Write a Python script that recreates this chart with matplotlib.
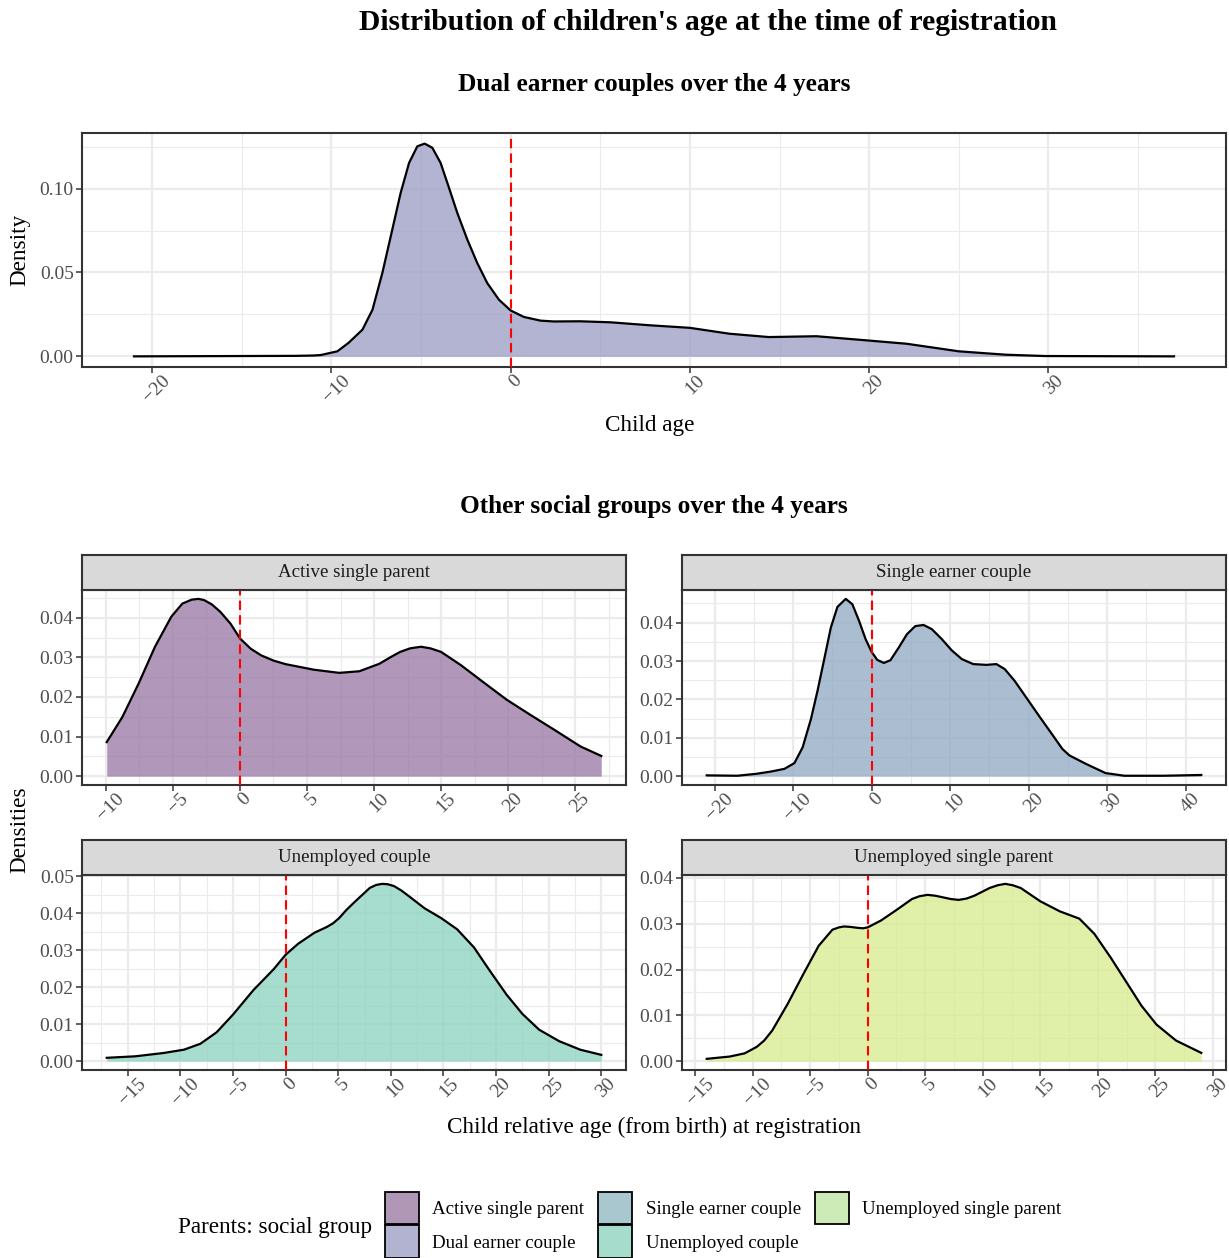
import matplotlib
matplotlib.use("Agg")
import matplotlib.pyplot as plt
import matplotlib.transforms as mtransforms
from matplotlib.patches import Patch
from matplotlib.ticker import MultipleLocator, FormatStrFormatter

plt.rcParams['font.family'] = ['Liberation Serif', 'DejaVu Serif']

# --- data (density curves) ---
dual_x = [-21, -18, -15, -12, -11, -10.58, -9.66, -9.04, -8.26, -7.7, -7.15, -6.68, -6.13, -5.66,
          -5.2, -4.79, -4.36, -3.9, -3.43, -2.97, -2.41, -1.86, -1.3, -0.65, 0, 0.74, 1.67, 2.4,
          3.9, 5.57, 7.8, 10.0, 12.2, 14.4, 17.06, 19.9, 22.1, 25.0, 27.6, 29.8, 33, 37]
dual_y = [0.0, 0.0001, 0.0002, 0.0003, 0.0005, 0.0008, 0.003, 0.008, 0.0159, 0.0278, 0.0497,
          0.0716, 0.0974, 0.1153, 0.1252, 0.1268, 0.1243, 0.1153, 0.1004, 0.0855, 0.0696, 0.0557,
          0.0437, 0.0338, 0.0274, 0.0235, 0.0213, 0.0208, 0.0209, 0.0203, 0.0185, 0.017, 0.0135,
          0.0115, 0.012, 0.0095, 0.0075, 0.003, 0.001, 0.0002, 0.0001, 0.0]

asp_x = [-9.94, -8.78, -7.56, -6.34, -5.12, -4.3, -3.6, -3.1, -2.68, -2.1, -1.46, -0.7, 0, 0.8,
         1.59, 2.5, 3.4, 5.5, 7.4, 8.9, 10.4, 11.2, 11.95, 12.7, 13.5, 14.2, 15.0, 16.5, 18.05,
         19.9, 21.7, 23.5, 25.4, 26.95]
asp_y = [0.0086, 0.0149, 0.0234, 0.0327, 0.0403, 0.0436, 0.0446, 0.0448, 0.0445, 0.0434, 0.0415,
         0.0385, 0.0348, 0.0322, 0.0305, 0.0292, 0.0283, 0.0269, 0.0261, 0.0265, 0.0284, 0.0300,
         0.0314, 0.0323, 0.0327, 0.0323, 0.0314, 0.028, 0.024, 0.0193, 0.0154, 0.0116, 0.0075,
         0.0051]

sec_x = [-21, -17.1, -14.7, -12.8, -11.1, -9.83, -8.78, -7.72, -6.88, -6.03, -5.19, -4.35, -3.29,
         -2.45, -1.6, -0.76, 0, 0.72, 1.56, 2.4, 3.46, 4.51, 5.57, 6.62, 7.68, 8.95, 10.2, 11.5,
         12.95, 14.64, 15.9, 16.96, 18.2, 19.7, 21.4, 23.1, 24.3, 25.2, 27.3, 29.8, 32.2, 37.2,
         42]
sec_y = [0.0002, 0.0001, 0.0006, 0.0012, 0.0019, 0.0034, 0.0075, 0.0149, 0.0223, 0.0305, 0.0387,
         0.0441, 0.0462, 0.0448, 0.0405, 0.0357, 0.0324, 0.0303, 0.0295, 0.0302, 0.0335, 0.037,
         0.0391, 0.0394, 0.0383, 0.0357, 0.0328, 0.0305, 0.0292, 0.029, 0.0292, 0.0279, 0.0249,
         0.0205, 0.0155, 0.0106, 0.0071, 0.0054, 0.0032, 0.0008, 0.0001, 0.0001, 0.0003]

uc_x = [-17, -14.3, -11.6, -9.66, -8.1, -6.56, -5.0, -3.07, -1.13, 0, 1.2, 2.76, 3.9, 4.5, 5.08,
        5.8, 6.6, 8.0, 8.6, 9.16, 9.7, 10.3, 11.0, 11.7, 13.2, 14.8, 16.3, 17.9, 19.4, 21.0,
        22.5, 24.1, 26.0, 28.0, 30.0]
uc_y = [0.0009, 0.0013, 0.0022, 0.0031, 0.0047, 0.0078, 0.0126, 0.0192, 0.0249, 0.0288, 0.0318,
        0.0348, 0.0363, 0.0373, 0.0387, 0.041, 0.0432, 0.0469, 0.0477, 0.048, 0.0479, 0.0474,
        0.0462, 0.0447, 0.0414, 0.0387, 0.0357, 0.0308, 0.0245, 0.018, 0.0128, 0.0085, 0.0054,
        0.0031, 0.0017]

usp_x = [-14.0, -12.0, -10.7, -9.66, -9.0, -8.3, -6.96, -5.6, -4.26, -3.07, -2.5, -2.06, -1.5,
         -0.88, -0.4, 0, 1.15, 2.5, 3.85, 4.5, 5.2, 5.9, 7.2, 7.9, 8.6, 9.26, 10.6, 11.3, 11.96,
         12.6, 13.3, 15.0, 16.7, 18.4, 19.7, 21.1, 22.4, 23.8, 25.1, 26.8, 29.0]
usp_y = [0.0005, 0.001, 0.0017, 0.0031, 0.0045, 0.0067, 0.0125, 0.019, 0.0252, 0.0287, 0.0292,
         0.0294, 0.0293, 0.0291, 0.029, 0.0292, 0.0307, 0.033, 0.0354, 0.036, 0.0363, 0.0361,
         0.0354, 0.0352, 0.0355, 0.0361, 0.0378, 0.0384, 0.0387, 0.0384, 0.0378, 0.0349, 0.0327,
         0.0311, 0.0278, 0.0227, 0.0176, 0.0121, 0.008, 0.0045, 0.0018]

groups = ['Active single parent', 'Single earner couple', 'Unemployed couple',
          'Unemployed single parent']
group_x = [asp_x, sec_x, uc_x, usp_x]
group_y = [asp_y, sec_y, uc_y, usp_y]
group_xstep = [5, 10, 5, 5]

# fill colours (drawn with alpha) and legend colours
fill_cols = {'Active single parent': '#9774A2', 'Dual earner couple': '#989BC3',
             'Single earner couple': '#8FA8C2', 'Unemployed couple': '#8AD2BF',
             'Unemployed single parent': '#D8EB8C'}
legend_labels = ['Active single parent', 'Dual earner couple', 'Single earner couple',
                 'Unemployed couple', 'Unemployed single parent']
legend_cols = ['#B097B6', '#B1B3D1', '#A8C7CF', '#A5DCCC', '#CDEBB6']

W, H = 1229, 1258
fig = plt.figure(figsize=(W / 100, H / 100), dpi=100)

SMALL_FS = 13.6
TICK_FS = 14
AXT_FS = 16.7
all_axes = []


def style_panel(ax, x, y, xstep, ystep):
    xlo, xhi = min(x), max(x)
    px = 0.05 * (xhi - xlo)
    ymax = max(y)
    ax.set_xlim(xlo - px, xhi + px)
    ax.set_ylim(-0.05 * ymax, ymax * 1.05)
    ax.xaxis.set_major_locator(MultipleLocator(xstep))
    ax.xaxis.set_minor_locator(MultipleLocator(xstep / 2))
    ax.yaxis.set_major_locator(MultipleLocator(ystep))
    ax.yaxis.set_minor_locator(MultipleLocator(ystep / 2))
    ax.yaxis.set_major_formatter(FormatStrFormatter('%.2f'))
    ax.grid(which='major', color='#EBEBEB', lw=1.6)
    ax.grid(which='minor', color='#EBEBEB', lw=0.8)
    ax.set_axisbelow(True)
    ax.tick_params(which='major', length=4, width=1.1, color='#333333',
                   labelsize=TICK_FS, labelcolor='#4D4D4D', pad=2)
    ax.tick_params(which='minor', length=0)
    for lab in ax.get_xticklabels():
        lab.set_rotation(45)
        lab.set_ha('center')
    for s in ax.spines.values():
        s.set_color('#333333')
        s.set_linewidth(1.5)
    all_axes.append(ax)


def draw_density(ax, x, y, col):
    ax.fill_between(x, 0, y, color=col, alpha=0.75, lw=0, zorder=2)
    ax.plot(x, y, color='black', lw=1.6, zorder=3, solid_joinstyle='round')
    ax.axvline(0, color='red', ls=(0, (4.5, 2.5)), lw=1.5, zorder=4)


# --- titles ---
fig.text(708 / W, 1 - 22 / H, "Distribution of children's age at the time of registration",
         ha='center', va='center', fontsize=21.3, fontweight='bold')
fig.text(654 / W, 1 - 85 / H, "Dual earner couples over the 4 years",
         ha='center', va='center', fontsize=18.2, fontweight='bold')

# --- top panel ---
ax0 = fig.add_axes([82 / W, 1 - 367 / H, 1144 / W, 234 / H])
draw_density(ax0, dual_x, dual_y, fill_cols['Dual earner couple'])
style_panel(ax0, dual_x, dual_y, 10, 0.05)
fig.text(20 / W, 1 - 250 / H, 'Density', rotation=90, ha='center', va='center', fontsize=AXT_FS)
fig.text(650 / W, 1 - 425 / H, 'Child age', ha='center', va='center', fontsize=AXT_FS)

fig.text(654 / W, 1 - 506 / H, "Other social groups over the 4 years",
         ha='center', va='center', fontsize=18.2, fontweight='bold')

# --- facets ---
lefts = [82, 682, 82, 682]
bottoms = [785, 785, 1070, 1070]
pw, ph, sh = 544, 195, 35
for g, x, y, xs, l, b in zip(groups, group_x, group_y, group_xstep, lefts, bottoms):
    ax = fig.add_axes([l / W, 1 - b / H, pw / W, ph / H])
    draw_density(ax, x, y, fill_cols[g])
    style_panel(ax, x, y, xs, 0.01)
    st = fig.add_axes([l / W, 1 - (b - ph) / H, pw / W, sh / H])
    st.set_facecolor('#D9D9D9')
    st.set_xticks([])
    st.set_yticks([])
    for s in st.spines.values():
        s.set_color('#333333')
        s.set_linewidth(1.5)
    st.text(0.5, 0.5, g, ha='center', va='center', fontsize=SMALL_FS, color='#1A1A1A',
            transform=st.transAxes)

fig.text(20 / W, 1 - 830 / H, 'Densities', rotation=90, ha='center', va='center', fontsize=AXT_FS)
fig.text(654 / W, 1 - 1127 / H, 'Child relative age (from birth) at registration',
         ha='center', va='center', fontsize=AXT_FS)

# --- legend ---
handles = [Patch(facecolor=c, edgecolor='black', lw=1.3) for c in legend_cols]
fig.legend(handles, legend_labels, ncol=3, loc='upper left',
           bbox_to_anchor=(385 / W, 1 - 1192 / H), frameon=False, fontsize=SMALL_FS,
           handlelength=1.8, handleheight=2.27, labelspacing=0.05, handletextpad=0.7,
           columnspacing=0.75, borderpad=0, borderaxespad=0)
fig.text(178 / W, 1 - 1228 / H, 'Parents: social group', ha='left', va='center', fontsize=AXT_FS)

# nudge rotated x tick labels a little right/up, like the reference
fig.canvas.draw()
shift = mtransforms.ScaledTranslation(5 / 100, 3 / 100, fig.dpi_scale_trans)
for ax in all_axes:
    for lab in ax.get_xticklabels():
        lab.set_transform(lab.get_transform() + shift)

fig.savefig('out.png', dpi=100)
